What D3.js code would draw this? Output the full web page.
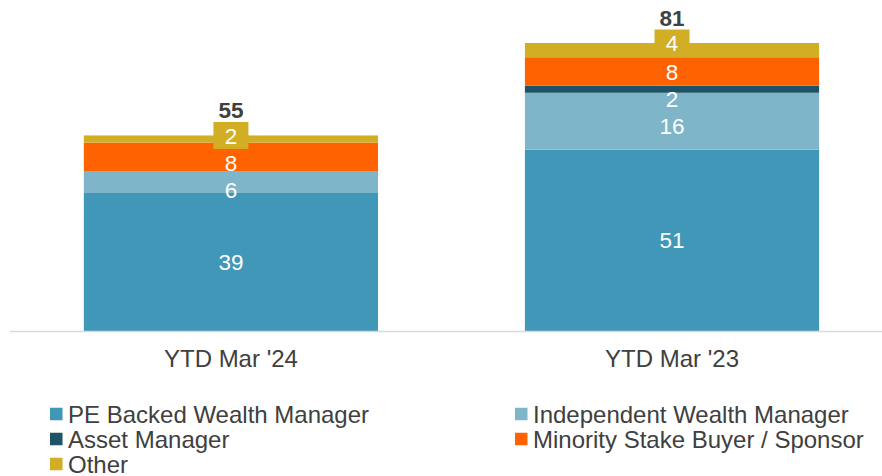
<!DOCTYPE html>
<html>
<head>
<meta charset="utf-8">
<script src="https://cdn.jsdelivr.net/npm/d3@7"></script>
<style>
  body { margin: 0; background: #fff; }
  svg { display: block; font-family: "Liberation Sans", Arial, sans-serif; }
</style>
</head>
<body>
<svg id="chart" width="882" height="476"></svg>
<script>
// categories + series, stacked bottom to top
const categories = ["YTD Mar '24", "YTD Mar '23"];
const seriesNames = ['PE Backed Wealth Manager', 'Independent Wealth Manager', 'Asset Manager',
  'Minority Stake Buyer / Sponsor', 'Other'];
const peBacked = [39, 51];
const independent = [6, 16];
const assetMgr = [0, 2];
const minority = [8, 8];
const other = [2, 4];
const colors = ['#4097b7', '#7fb5c9', '#1d5366', '#ff6200', '#d1ae24'];

const seriesValues = [peBacked, independent, assetMgr, minority, other];
const rows = categories.map((c, i) => {
  const r = { cat: c };
  seriesNames.forEach((s, k) => { r[s] = seriesValues[k][i]; });
  return r;
});

const svg = d3.select('#chart');
const baseY = 331;
const x = d3.scaleBand().domain(categories).range([10, 882])
  .paddingInner(0.333).paddingOuter(0.155).align(0.54);
const y = d3.scaleLinear().domain([0, 81]).range([baseY, 43]);

const stack = d3.stack().keys(seriesNames)(rows);

// bars
const layers = svg.append('g').selectAll('g').data(stack).enter().append('g')
  .attr('fill', (d, i) => colors[i]);
layers.selectAll('rect').data((d) => d).enter().append('rect')
  .attr('x', (d) => x(d.data.cat))
  .attr('width', x.bandwidth())
  .attr('y', (d) => y(d[1]))
  .attr('height', (d) => y(d[0]) - y(d[1]));

// axis line
svg.append('line').attr('x1', 10).attr('x2', 882).attr('y1', baseY + 0.5).attr('y2', baseY + 0.5)
  .attr('stroke', '#d9d9d9').attr('stroke-width', 1.5);

// category labels
const xAxis = d3.axisBottom(x).tickSize(0).tickPadding(19);
const ax = svg.append('g').attr('transform', `translate(0,${baseY})`).call(xAxis);
ax.select('.domain').remove();
ax.selectAll('text').attr('font-size', 24).attr('fill', '#404040')
  .attr('font-family', '"Liberation Sans", Arial, sans-serif');

// segment labels, pushed down so they don't overlap
const labelH = 27;
const labelG = svg.append('g');
categories.forEach((cat, ci) => {
  const segs = [];
  stack.forEach((layer, k) => {
    const d = layer[ci];
    const v = d[1] - d[0];
    if (v <= 0) return;
    const isOther = k === seriesNames.length - 1;
    const cy = isOther ? y(d[1]) : (y(d[0]) + y(d[1])) / 2;
    segs.push({ v, k, cy, isOther });
  });
  // top to bottom sweep
  segs.sort((a, b) => a.cy - b.cy);
  let prevBottom = -Infinity;
  segs.forEach((s) => {
    if (s.cy - labelH / 2 < prevBottom) s.cy = prevBottom + labelH / 2;
    prevBottom = s.cy + labelH / 2;
  });
  const cx = x(cat) + x.bandwidth() / 2;
  let topBox = Infinity;
  segs.forEach((s) => {
    if (s.isOther) {
      labelG.append('rect').attr('x', cx - 17.5).attr('y', s.cy - labelH / 2)
        .attr('width', 35).attr('height', labelH).attr('fill', colors[s.k]);
      topBox = s.cy - labelH / 2;
    }
    labelG.append('text').attr('x', cx).attr('y', s.cy).attr('dy', '0.36em')
      .attr('text-anchor', 'middle').attr('font-size', 22.5).attr('fill', '#fff')
      .text(s.v);
  });
  const total = d3.sum(seriesValues, (arr) => arr[ci]);
  labelG.append('text').attr('x', cx).attr('y', topBox - 4)
    .attr('text-anchor', 'middle').attr('font-size', 22.5).attr('font-weight', 'bold')
    .attr('fill', '#404040').text(total);
});

// legend
const legendPos = [[50, 414], [515, 414], [50, 439], [515, 439], [50, 464]];
const leg = svg.append('g').selectAll('g').data(seriesNames).enter().append('g')
  .attr('transform', (d, i) => `translate(${legendPos[i][0]},${legendPos[i][1]})`);
leg.append('rect').attr('x', 0).attr('y', -6.25).attr('width', 12.5).attr('height', 12.5)
  .attr('fill', (d, i) => colors[i]);
leg.append('text').attr('x', 18).attr('dy', '0.36em').attr('font-size', 24)
  .attr('fill', '#404040').text((d) => d);
</script>
</body>
</html>
